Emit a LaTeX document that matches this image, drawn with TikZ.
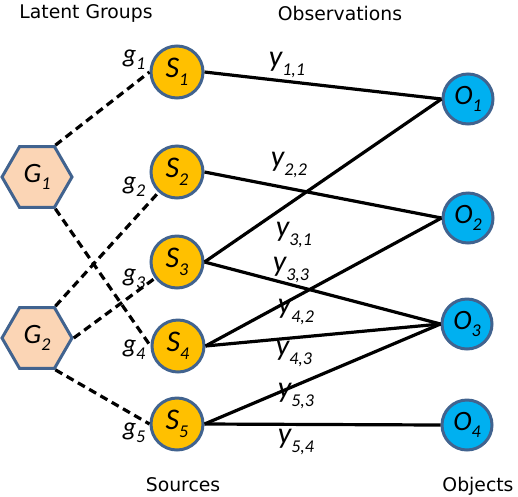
\documentclass[tikz,border=0pt]{standalone}
\usepackage{fontspec}
\setmainfont{DejaVu Sans}
\newfontfamily\labfont{Carlito}
\usetikzlibrary{shapes.geometric}
\definecolor{rimblue}{HTML}{41638F}
\definecolor{srcgold}{HTML}{FFC000}
\definecolor{objblue}{HTML}{00B0F0}
\definecolor{grppeach}{HTML}{FBD5B5}
\newcommand{\lab}[2]{#1\raisebox{-0.27em}{\fontsize{18}{18}\selectfont #2}}
\tikzset{
    source/.style = {circle, draw=rimblue, fill=srcgold, line width=3pt,
                     minimum size=52pt, inner sep=0pt,
                     font=\labfont\itshape\fontsize{30}{30}\selectfont},
    object/.style = {circle, draw=rimblue, fill=objblue, line width=3pt,
                     minimum size=50pt, inner sep=0pt,
                     font=\labfont\itshape\fontsize{28}{28}\selectfont},
    group/.style = {regular polygon, regular polygon sides=6, draw=rimblue,
                    fill=grppeach, line width=3pt, minimum size=70pt, inner sep=0pt,
                    font=\labfont\itshape\fontsize{28}{28}\selectfont},
    head/.style = {inner sep=0pt, font=\fontsize{18.8}{22}\selectfont},
    weight/.style = {inner sep=0pt, font=\labfont\itshape\fontsize{30}{30}\selectfont},
    gweight/.style = {inner sep=0pt, font=\labfont\itshape\fontsize{26}{26}\selectfont},
    link/.style = {line width=3.2pt, draw=black},
    member/.style = {link, dash pattern=on 8pt off 5pt},
}
\begin{document}
\begin{tikzpicture}[x=1pt, y=-1pt]
\useasboundingbox (0,0) rectangle (518,496);

% Headings
\node (hgroups) [head] at (86,13) {Latent Groups};
\node (hobs) [head] at (340,13) {Observations};
\node (hsrc) [head] at (183,485) {Sources};
\node (hobj) [head] at (478,486) {Objects};

% Groups, sources, objects
\node (G1) [group] at (37,177) {\lab{G}{1}};
\node (G2) [group] at (37,338) {\lab{G}{2}};
\node (S1) [source] at (177,72) {\lab{S}{1}};
\node (S2) [source] at (177,172) {\lab{S}{2}};
\node (S3) [source] at (177,262) {\lab{S}{3}};
\node (S4) [source] at (178,346) {\lab{S}{4}};
\node (S5) [source] at (177,424) {\lab{S}{5}};
\node (O1) [object] at (468,99) {\lab{O}{1}};
\node (O2) [object] at (468,218) {\lab{O}{2}};
\node (O3) [object] at (467,324) {\lab{O}{3}};
\node (O4) [object] at (467,425) {\lab{O}{4}};

% Group memberships
\draw[member] (G1.60) -- (S1.west);
\draw[member] (G1.300) -- (S4.west);
\draw[member] (G2.60) -- (S2);
\draw[member] (G2.0) -- (S3);
\draw[member] (G2.300) -- (S5.west);

% Observations
\draw[link] (S1.east) -- (O1.west);
\draw[link] (S2.east) -- (O2.west);
\draw[link] (S3.east) -- (O1.west);
\draw[link] (S3.east) -- (O3.west);
\draw[link] (S4.east) -- (O2.west);
\draw[link] (S4.east) -- (O3.west);
\draw[link] (S5.east) -- (O3.west);
\draw[link] (S5.east) -- (O4.west);

% Weights
\node (g1) [gweight] at (134,60) {\lab{g}{1}};
\node (g2) [gweight] at (134,187) {\lab{g}{2}};
\node (g3) [gweight] at (134,279) {\lab{g}{3}};
\node (g4) [gweight] at (134,350) {\lab{g}{4}};
\node (g5) [gweight] at (134,433) {\lab{g}{5}};
\node (y11) [weight] at (287,65) {\lab{y}{1,1}};
\node (y22) [weight] at (289,165) {\lab{y}{2,2}};
\node (y31) [weight] at (294,235) {\lab{y}{3,1}};
\node (y33) [weight] at (291,270) {\lab{y}{3,3}};
\node (y42) [weight] at (296,312) {\lab{y}{4,2}};
\node (y43) [weight] at (294,354) {\lab{y}{4,3}};
\node (y53) [weight] at (296,396) {\lab{y}{5,3}};
\node (y54) [weight] at (296,442) {\lab{y}{5,4}};
\end{tikzpicture}
\end{document}
